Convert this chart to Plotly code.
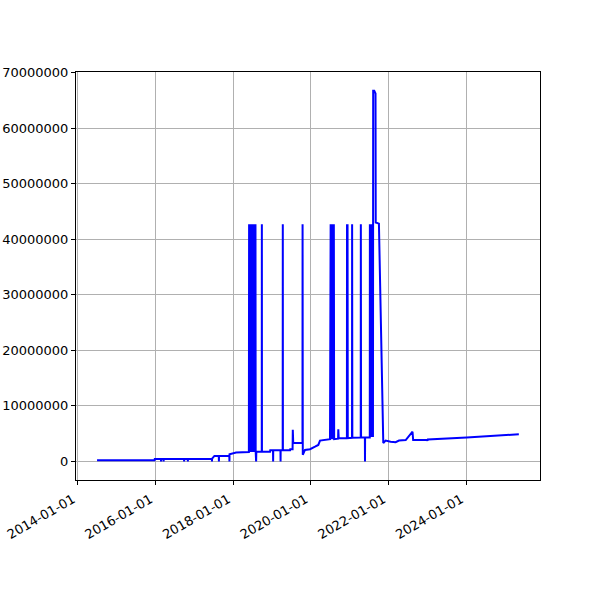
import plotly.graph_objects as go

# Time series (values in millions)
dates = [
    "2014-07-01", "2015-12-24", "2015-12-26",
    "2016-02-22", "2016-02-23", "2016-02-24",
    "2016-03-17", "2016-03-18", "2016-03-19",
    "2016-09-26", "2016-09-27", "2016-09-28",
    "2016-10-31", "2016-11-01", "2016-11-02",
    "2017-06-15", "2017-06-16", "2017-06-17", "2017-07-09",
    "2017-08-19", "2017-08-20", "2017-08-21",
    "2017-11-26", "2017-11-27", "2017-11-28",
    "2018-01-29", "2018-05-29",
    "2018-05-31", "2018-06-02", "2018-06-05", "2018-06-07", "2018-06-10", "2018-06-12",
    "2018-06-15", "2018-06-17", "2018-06-20", "2018-06-22", "2018-06-25", "2018-06-27",
    "2018-06-30", "2018-07-02", "2018-07-05", "2018-07-07", "2018-07-10", "2018-07-12",
    "2018-07-15", "2018-07-17", "2018-07-20", "2018-07-22", "2018-07-25", "2018-07-27",
    "2018-07-30", "2018-08-01",
    "2018-08-05", "2018-08-07",
    "2018-09-27", "2018-09-28", "2018-09-29",
    "2018-12-14", "2018-12-16",
    "2019-01-11", "2019-01-12", "2019-01-13",
    "2019-03-22", "2019-03-23", "2019-03-24",
    "2019-04-12", "2019-04-13", "2019-04-14",
    "2019-06-20", "2019-06-22",
    "2019-07-14", "2019-07-16", "2019-07-20",
    "2019-10-15", "2019-10-16", "2019-10-18",
    "2019-11-08", "2019-12-25", "2020-02-10", "2020-03-12", "2020-03-28",
    "2020-06-30",
    "2020-07-06", "2020-07-09", "2020-07-12", "2020-07-15", "2020-07-18", "2020-07-21",
    "2020-07-24", "2020-07-27", "2020-07-30", "2020-08-02", "2020-08-05", "2020-08-08",
    "2020-09-14", "2020-09-16", "2020-09-20",
    "2020-12-06", "2020-12-07", "2020-12-09", "2020-12-12", "2020-12-14",
    "2021-01-23", "2021-01-24", "2021-01-26",
    "2021-04-15", "2021-04-16", "2021-04-18",
    "2021-05-24", "2021-05-25", "2021-05-26",
    "2021-07-09", "2021-07-10", "2021-07-12", "2021-07-18", "2021-07-20",
    "2021-07-26", "2021-07-28",
    "2021-08-08", "2021-08-10", "2021-08-20", "2021-09-01", "2021-09-03",
    "2021-10-03", "2021-11-13",
    "2021-12-05", "2022-01-21", "2022-03-09", "2022-04-10", "2022-06-12",
    "2022-08-15", "2022-08-21", "2022-12-30", "2023-01-03", "2023-01-06",
    "2024-01-07", "2025-05-11",
]

values_millions = [
    0.2, 0.2, 0.45,
    0.45, 0.0, 0.45,
    0.45, 0.0, 0.45,
    0.45, 0.0, 0.45,
    0.45, 0.0, 0.45,
    0.45, 0.0, 0.5, 1.0,
    1.0, 0.0, 1.0,
    1.0, 0.0, 1.3,
    1.6, 1.7,
    42.7, 1.7, 42.7, 1.7, 42.7, 1.7,
    42.7, 1.7, 42.7, 1.7, 42.7, 1.7,
    42.7, 1.7, 42.7, 1.7, 42.7, 1.7,
    42.7, 1.7, 42.7, 1.7, 42.7, 1.7,
    42.7, 1.7,
    0.0, 1.75,
    1.75, 42.7, 1.75,
    1.75, 2.0,
    2.0, 0.0, 2.0,
    2.0, 0.0, 2.0,
    2.0, 42.7, 2.0,
    2.0, 2.2,
    2.2, 5.7, 3.3,
    3.3, 42.7, 1.2,
    2.07, 2.2, 2.65, 2.97, 3.75,
    4.0,
    42.7, 4.0, 42.7, 4.0, 42.7, 4.0,
    42.7, 4.0, 42.7, 4.0, 42.7, 4.0,
    4.1, 5.8, 4.17,
    4.2, 42.7, 4.2, 42.7, 4.2,
    4.25, 42.7, 4.25,
    4.3, 42.7, 4.3,
    4.3, 0.0, 4.3,
    4.3, 42.7, 4.4, 42.7, 4.5,
    42.7, 4.6,
    4.6, 66.7, 66.7, 66.2, 43.0,
    42.8, 3.3,
    3.75, 3.55, 3.45, 3.75, 3.85,
    5.35, 3.85, 3.9, 3.7, 3.95,
    4.3, 4.9,
]

x_tick_dates = ["2014-01-01", "2016-01-01", "2018-01-01", "2020-01-01",
                "2022-01-01", "2024-01-01"]
y_tick_values = [0, 10000000, 20000000, 30000000, 40000000, 50000000,
                 60000000, 70000000]

values = [v * 1e6 for v in values_millions]

fig = go.Figure()
fig.add_trace(go.Scatter(
    x=dates, y=values, mode="lines",
    line=dict(color="#0000ff", width=2, simplify=False),
    showlegend=False, hoverinfo="skip",
))

axis_common = dict(
    showline=True, linecolor="black", linewidth=1, mirror=True,
    ticks="outside", ticklen=4, tickwidth=1, tickcolor="black",
    showgrid=True, gridcolor="#b0b0b0", gridwidth=1,
    zeroline=False, automargin=False,
    tickfont=dict(family="DejaVu Sans", size=13, color="black"),
)

fig.update_xaxes(
    type="date",
    range=["2013-12-15", "2025-11-26"],
    tickvals=x_tick_dates,
    ticktext=x_tick_dates,
    tickangle=-30,
    ticklabelshift=-5,
    ticklabelstandoff=2,
    **axis_common,
)
fig.update_yaxes(
    range=[-3.34e6, 70.08e6],
    tickvals=y_tick_values,
    ticktext=[str(v) for v in y_tick_values],
    **axis_common,
)

fig.update_layout(
    width=600, height=600,
    margin=dict(l=76, r=60, t=72, b=120),
    paper_bgcolor="white", plot_bgcolor="white",
    font=dict(family="DejaVu Sans", size=13, color="black"),
)

fig.write_html("out.html",
               config={"displayModeBar": False},
               post_script="document.body.style.margin='0';")
